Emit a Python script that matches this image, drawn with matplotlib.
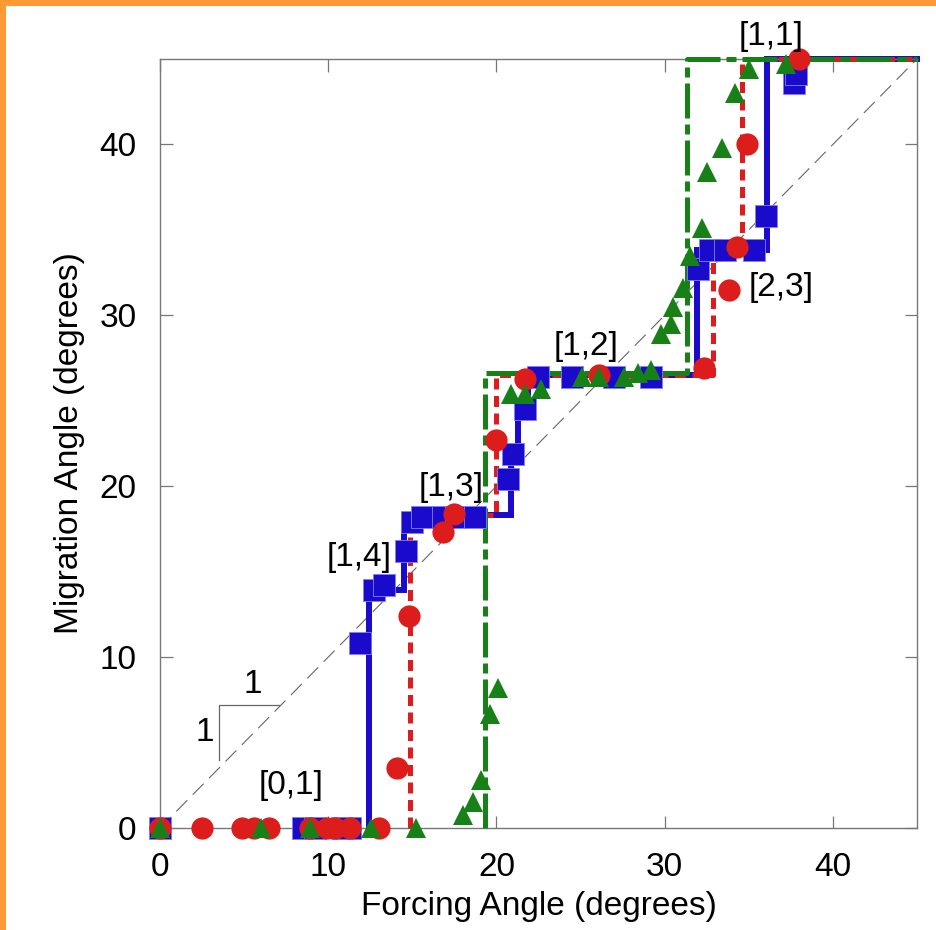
import matplotlib
matplotlib.use("Agg")
import matplotlib.pyplot as plt
from matplotlib.patches import Rectangle

plt.rcParams['font.family'] = ['Liberation Sans', 'DejaVu Sans']

# ---- data ----
blue_x = [0, 8.5, 9.2, 10.8, 11.3, 11.9, 12.7, 13.3, 14.6, 15.0, 15.6, 16.8, 17.6, 18.7,
          20.7, 21.0, 21.7, 22.5, 24.5, 27.0, 29.2, 32.0, 32.7, 33.6, 35.3, 36.0, 37.7, 37.8]
blue_y = [0, 0, 0, 0, 0, 10.8, 13.9, 14.2, 16.2, 17.9, 18.2, 18.2, 18.2, 18.2,
          20.4, 21.9, 24.5, 26.4, 26.4, 26.4, 26.4, 32.7, 33.8, 33.8, 33.8, 35.8, 43.6, 44.1]

red_x = [0, 2.5, 4.85, 5.6, 6.5, 8.9, 9.9, 10.4, 11.3, 13.0, 14.1, 14.8, 16.8, 17.5,
         20.0, 21.7, 26.1, 32.35, 33.8, 34.3, 34.9, 38.0]
red_y = [0, 0, 0, 0, 0, 0, 0, 0, 0, 0, 3.5, 12.4, 17.3, 18.4,
         22.7, 26.3, 26.5, 26.9, 31.5, 34.0, 40.0, 45.0]

green_x = [0, 6.0, 8.9, 12.55, 15.2, 18.0, 18.6, 19.1, 19.6, 20.1,
           20.85, 21.7, 22.65, 25.1, 26.1, 27.6, 28.4, 29.2,
           29.8, 30.4, 30.5, 31.1, 31.5, 32.2, 32.5, 33.4, 34.2, 35.0, 37.2]
green_y = [0, 0, 0, 0, 0, 0.75, 1.5, 2.8, 6.7, 8.2,
           25.4, 25.4, 25.7, 26.4, 26.4, 26.4, 26.6, 26.8,
           28.9, 29.5, 30.5, 31.6, 33.5, 35.1, 38.4, 39.8, 43.0, 44.4, 44.7]

# step (fit) lines
blue_line_x = [12.45, 12.45, 14.5, 14.5, 20.85, 20.85, 21.3, 21.3, 21.9, 21.9, 31.95, 31.95, 36.1, 36.1, 45]
blue_line_y = [0, 13.9, 13.9, 18.3, 18.3, 22.0, 22.0, 24.5, 24.5, 26.5, 26.5, 33.8, 33.8, 45, 45]

red_line_x = [14.85, 14.85, 20.0, 20.0, 32.9, 32.9, 34.6, 34.6, 45]
red_line_y = [0, 18.3, 18.3, 26.5, 26.5, 34.0, 34.0, 45, 45]

green_line_x = [19.3, 19.3, 31.3, 31.3, 45]
green_line_y = [0, 26.6, 26.6, 45, 45]

labels = ['[1,1]', '[2,3]', '[1,2]', '[1,3]', '[1,4]', '[0,1]']
label_x = [36.3, 36.9, 25.3, 17.3, 11.85, 7.8]
label_y = [46.3, 31.6, 28.2, 19.9, 15.8, 2.5]

BLUE = '#1a0acc'
RED = '#dd1c1c'
GREEN = '#178017'
FS = 24

fig = plt.figure(figsize=(9.37, 9.30), dpi=100)
fig.patch.set_facecolor('white')
# orange frame (left and top)
fig.patches.append(Rectangle((0, 0), 6/937, 1, transform=fig.transFigure,
                             facecolor='#ff9933', edgecolor='none', zorder=-1))
fig.patches.append(Rectangle((0, 1 - 6/930), 1, 6/930, transform=fig.transFigure,
                             facecolor='#ff9933', edgecolor='none', zorder=-1))

ax = fig.add_axes([160/937, 102/930, 757/937, 769/930])
ax.set_xlim(0, 45)
ax.set_ylim(0, 45)

# 1:1 line
ax.plot([0, 45], [0, 45], color='#666666', lw=0.8, dashes=(14, 7), zorder=1)
# slope triangle
ax.plot([3.5, 3.5, 7.1], [4.0, 7.2, 7.2], color='#666666', lw=0.9, zorder=1)
ax.text(5.5, 7.5, '1', fontsize=FS, ha='center', va='bottom')
ax.text(2.65, 5.6, '1', fontsize=FS, ha='center', va='center')

# fit lines
ax.plot(blue_line_x, blue_line_y, color=BLUE, lw=4.3, solid_joinstyle='miter', zorder=2, clip_on=False)
ax.plot(red_line_x, red_line_y, color=RED, lw=3.6, dashes=(2.2, 1.3), zorder=3, clip_on=False)
ax.plot(green_line_x, green_line_y, color=GREEN, lw=3.6, dashes=(7, 1.2, 2, 1.2), zorder=4, clip_on=False)

# markers
ax.plot(blue_x, blue_y, 's', color=BLUE, ms=15.5, mec='#8080ff', mew=0.6, zorder=5, clip_on=False)
ax.plot(red_x, red_y, 'o', color=RED, ms=16, mec=RED, mew=0, zorder=6, clip_on=False)
ax.plot(green_x, green_y, '^', color=GREEN, ms=14.5, mec=GREEN, mew=0, zorder=7, clip_on=False)

for t, x, y in zip(labels, label_x, label_y):
    ax.text(x, y, t, fontsize=FS, ha='center', va='center', zorder=8)

for s in ax.spines.values():
    s.set_color('#777777')
    s.set_linewidth(1.0)

ax.set_xticks([0, 10, 20, 30, 40])
ax.set_yticks([0, 10, 20, 30, 40])
ax.tick_params(direction='in', length=9, width=0.9, color='#777777',
               top=True, right=True, labelsize=FS, pad=17)
ax.set_xlabel('Forcing Angle (degrees)', fontsize=FS, labelpad=6)
ax.set_ylabel('Migration Angle (degrees)', fontsize=FS, labelpad=10)

fig.savefig('out.png', dpi=100)
